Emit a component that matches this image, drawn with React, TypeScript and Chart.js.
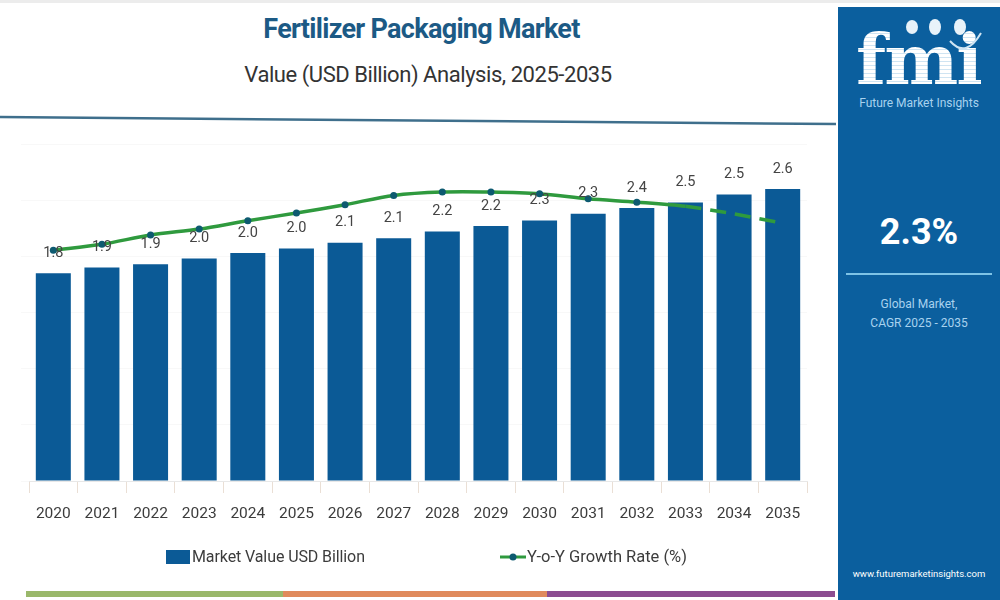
import { useEffect, useRef } from 'react';
import { Chart, ChartConfiguration, Plugin, registerables } from 'chart.js';

Chart.register(...registerables);

const years = ['2020', '2021', '2022', '2023', '2024', '2025', '2026', '2027', '2028', '2029', '2030', '2031', '2032', '2033', '2034', '2035'];
const marketValue = [1.85, 1.9, 1.93, 1.98, 2.03, 2.07, 2.12, 2.16, 2.22, 2.27, 2.32, 2.38, 2.43, 2.48, 2.55, 2.6];
const valueLabels = ['1.8', '1.9', '1.9', '2.0', '2.0', '2.0', '2.1', '2.1', '2.2', '2.2', '2.3', '2.3', '2.4', '2.5', '2.5', '2.6'];
const growthRate = [2.74, 2.81, 2.92, 2.99, 3.09, 3.18, 3.28, 3.39, 3.43, 3.43, 3.41, 3.35, 3.31, 3.26, 3.17, 3.06];

const FONT = 'Roboto, sans-serif';
const BAR_BLUE = '#0b5a96';
const LINE_GREEN = '#2f9a3e';
const MARKER = '#0d5a70';
const FIRST_FORECAST = 13; // line goes dashed and loses its markers from 2033

// value labels float a fixed distance above each bar
const barLabels: Plugin<'bar'> = {
  id: 'barLabels',
  afterDatasetsDraw(chart) {
    const { ctx } = chart;
    const meta = chart.getDatasetMeta(0);
    ctx.save();
    ctx.font = `14.5px ${FONT}`;
    ctx.fillStyle = '#444444';
    ctx.textAlign = 'center';
    ctx.textBaseline = 'middle';
    meta.data.forEach((bar, i) => {
      ctx.fillText(valueLabels[i], bar.x, bar.y - 20);
    });
    ctx.restore();
  },
};

export default function App() {
  const canvasRef = useRef<HTMLCanvasElement>(null);
  const chartRef = useRef<Chart | null>(null);

  useEffect(() => {
    if (!canvasRef.current) return;
    const config: ChartConfiguration = {
      type: 'bar',
      data: {
        labels: years,
        datasets: [
          {
            label: 'Market Value USD Billion',
            data: marketValue,
            backgroundColor: BAR_BLUE,
            categoryPercentage: 1,
            barPercentage: 0.72,
            yAxisID: 'y',
            order: 2,
          },
          {
            type: 'line',
            label: 'Y-o-Y Growth Rate (%)',
            data: growthRate,
            borderColor: LINE_GREEN,
            borderWidth: 3.5,
            tension: 0.3,
            pointRadius: growthRate.map((_, i) => (i < FIRST_FORECAST ? 3.5 : 0)),
            pointBackgroundColor: MARKER,
            pointBorderWidth: 0,
            segment: {
              borderDash: (c) => (c.p0DataIndex >= FIRST_FORECAST ? [16, 9] : undefined),
            },
            yAxisID: 'y1',
            order: 1,
          },
        ],
      },
      options: {
        responsive: false,
        animation: false,
        layout: { padding: { left: 29, right: 28, top: 144, bottom: 0 } },
        plugins: {
          legend: { display: false },
          title: { display: false },
          tooltip: { enabled: false },
        },
        scales: {
          x: {
            afterFit: (scale) => {
              scale.height = 119;
            },
            border: { color: '#e8e8e8' },
            grid: { drawOnChartArea: false, color: '#eadfd5', tickLength: 12 },
            ticks: {
              color: '#3c3c3c',
              font: { family: FONT, size: 15.5 },
              padding: 12,
              autoSkip: false,
              maxRotation: 0,
            },
          },
          y: {
            min: 0,
            max: 3,
            display: true,
            afterFit: (scale) => {
              scale.width = 0;
            },
            border: { display: false },
            grid: { color: '#f8f8f8' },
            ticks: { display: false, stepSize: 0.5 },
          },
          y1: { min: 0, max: 4, display: false },
        },
      },
      plugins: [barLabels as Plugin],
    };
    chartRef.current = new Chart(canvasRef.current, config);
    return () => {
      chartRef.current?.destroy();
    };
  }, []);

  return (
    <div style={{ position: 'relative', width: 1000, height: 600, overflow: 'hidden', background: '#fff', fontFamily: FONT }}>
      <style>{'body{margin:0}'}</style>

      {/* Header */}
      <div style={{ position: 'absolute', left: 0, top: 0, width: 1000, height: 3, background: '#ececec' }} />
      <div style={{ position: 'absolute', left: 0, width: 843, top: 13, textAlign: 'center', fontSize: 27, fontWeight: 700, color: '#1c5a85', letterSpacing: -0.7, whiteSpace: 'nowrap' }}>
        Fertilizer Packaging Market
      </div>
      <div style={{ position: 'absolute', left: 0, width: 856, top: 62, textAlign: 'center', fontSize: 22, color: '#333', letterSpacing: -0.45, whiteSpace: 'nowrap' }}>
        Value (USD Billion) Analysis, 2025-2035
      </div>
      <svg width={836} height={130} style={{ position: 'absolute', left: 0, top: 0 }}>
        <line x1={0} y1={117} x2={836} y2={124} stroke="#3f6f8c" strokeWidth={2.5} />
      </svg>

      <canvas ref={canvasRef} width={835} height={600} style={{ position: 'absolute', left: 0, top: 0 }} />

      {/* Legend */}
      <div style={{ position: 'absolute', left: 166, top: 550, width: 24, height: 14, background: BAR_BLUE }} />
      <div style={{ position: 'absolute', left: 192, top: 547, fontSize: 16, color: '#3c3c3c', whiteSpace: 'nowrap', letterSpacing: -0.1 }}>Market Value USD Billion</div>
      <svg width={26} height={14} style={{ position: 'absolute', left: 500, top: 550 }}>
        <line x1={0} y1={7} x2={26} y2={7} stroke={LINE_GREEN} strokeWidth={3} />
        <circle cx={13} cy={7} r={3.5} fill={MARKER} />
      </svg>
      <div style={{ position: 'absolute', left: 527, top: 547, fontSize: 16.5, color: '#3c3c3c', whiteSpace: 'nowrap' }}>Y-o-Y Growth Rate (%)</div>

      {/* Bottom stripes */}
      <div style={{ position: 'absolute', left: 26, top: 591, width: 257, height: 6, background: '#9ab86b' }} />
      <div style={{ position: 'absolute', left: 283, top: 591, width: 264, height: 6, background: '#e08a5c' }} />
      <div style={{ position: 'absolute', left: 547, top: 591, width: 288, height: 6, background: '#8c4d91' }} />

      {/* Side panel */}
      <div style={{ position: 'absolute', left: 838, top: 7, width: 162, height: 593, background: '#0b5f9e', color: '#fff' }}>
        <div
          style={{
            position: 'absolute',
            left: 18,
            top: 11,
            width: 125,
            textAlign: 'center',
            fontFamily: '"DejaVu Serif", serif',
            fontWeight: 700,
            fontSize: 70,
            lineHeight: '84px',
            letterSpacing: -2,
            background: 'repeating-linear-gradient(#ffffff 0 3px, #cfe4f2 3px 4px)',
            WebkitBackgroundClip: 'text',
            backgroundClip: 'text',
            color: 'transparent',
          }}
        >
          fmi
        </div>
        <svg width={162} height={60} style={{ position: 'absolute', left: 0, top: 0 }}>
          <ellipse cx={74} cy={20} rx={6} ry={7} fill="#e8f2f9" />
          <ellipse cx={97} cy={20} rx={6} ry={8} fill="#e8f2f9" />
          <ellipse cx={122} cy={20} rx={6} ry={8} fill="#e8f2f9" />
          <path d="M112 34 Q128 52 143 26" stroke="#cfe4f2" strokeWidth={2} fill="none" />
        </svg>
        <div style={{ position: 'absolute', left: 0, width: 162, top: 89, textAlign: 'center', fontSize: 12, color: '#a8d2ee', whiteSpace: 'nowrap' }}>
          Future Market Insights
        </div>
        <div style={{ position: 'absolute', left: 0, width: 162, top: 204, textAlign: 'center', fontSize: 36, fontWeight: 700 }}>2.3%</div>
        <div style={{ position: 'absolute', left: 8, top: 266, width: 146, height: 2, background: '#7ec3e6' }} />
        <div style={{ position: 'absolute', left: 0, width: 162, top: 288, textAlign: 'center', fontSize: 12, lineHeight: '19px', color: '#a8d2ee' }}>
          Global Market,
          <br />
          CAGR 2025 - 2035
        </div>
        <div style={{ position: 'absolute', left: 0, width: 162, top: 561, textAlign: 'center', fontSize: 9.5, color: '#ffffff', whiteSpace: 'nowrap' }}>
          www.futuremarketinsights.com
        </div>
      </div>
    </div>
  );
}
